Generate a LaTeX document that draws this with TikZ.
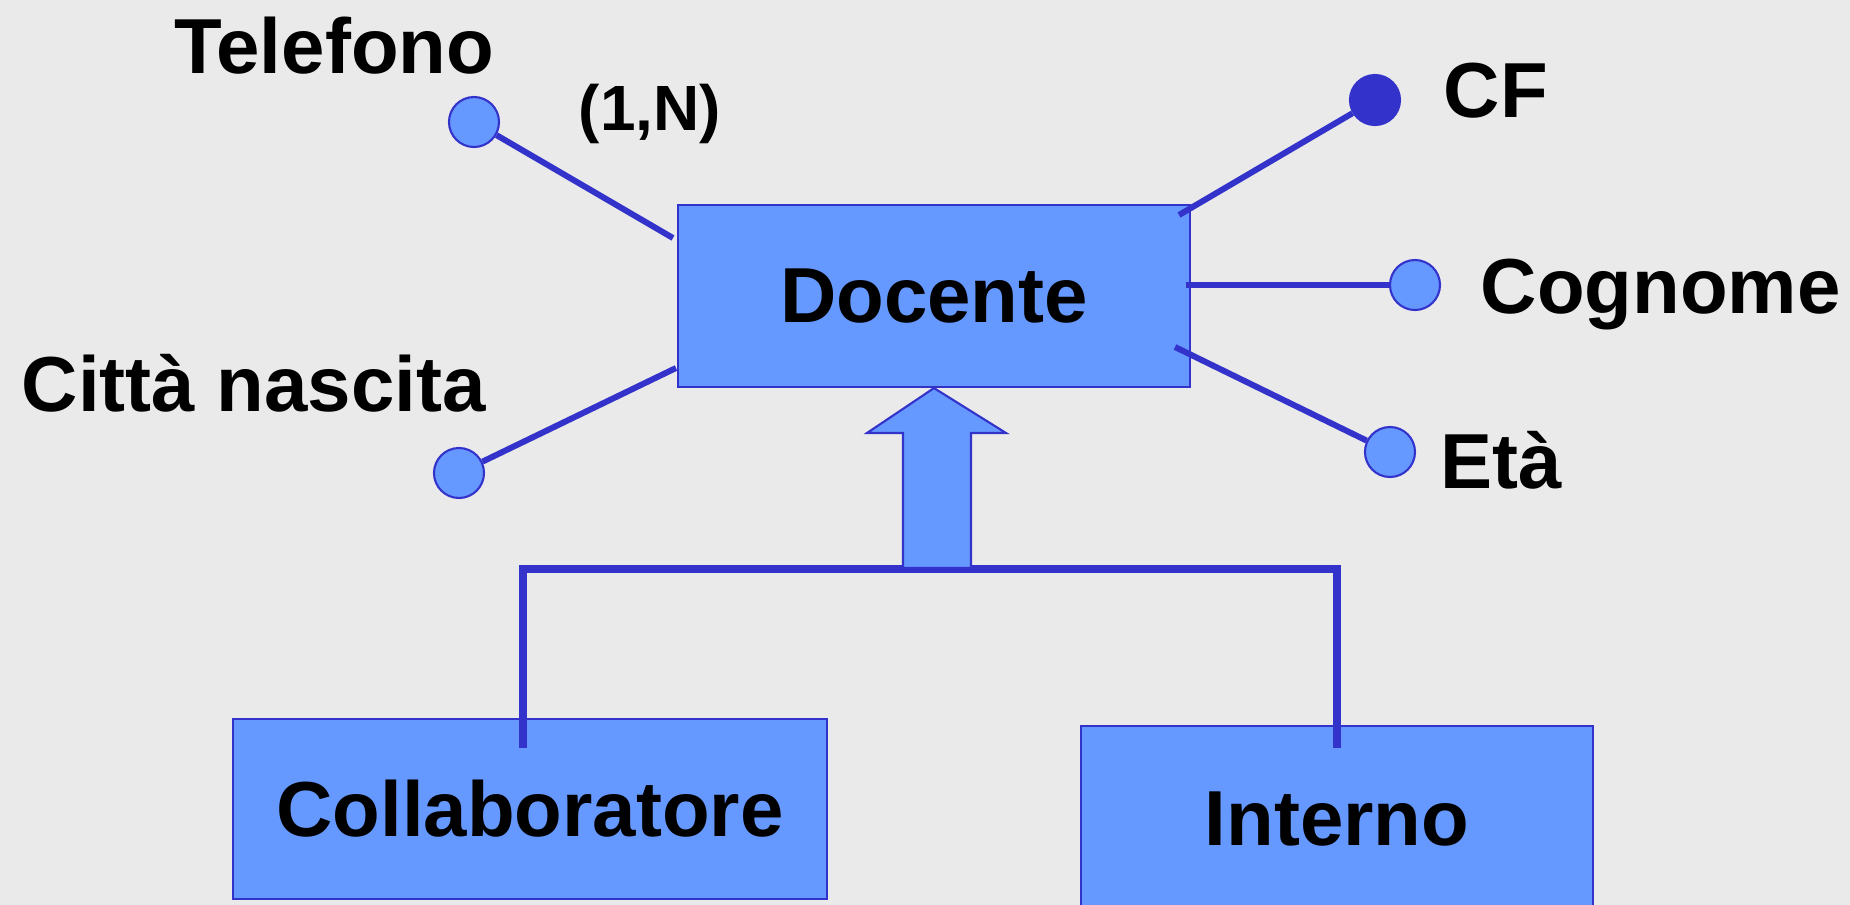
\documentclass[tikz,border=0pt]{standalone}
\usepackage{fontspec}
\setmainfont{Liberation Sans}
\definecolor{entfill}{HTML}{6699FF}
\definecolor{entline}{HTML}{3333CC}
\definecolor{slidebg}{HTML}{EAEAEA}

\begin{document}
\begin{tikzpicture}[
    x=0.1mm,
    y=-0.1mm,
    font=\fontsize{22.2}{26}\selectfont\bfseries,
    entity/.style={draw=entline, fill=entfill, line width=0.6pt, inner sep=0pt},
    attr/.style={circle, draw=entline, fill=entfill, line width=0.6pt,
                 minimum size=5mm, inner sep=0pt},
    keyattr/.style={attr, fill=entline},
    txt/.style={inner sep=0pt, anchor=base west},
    link/.style={draw=entline, line width=1.7pt},
    isaline/.style={draw=entline, line width=2pt, line join=miter},
]

    \useasboundingbox (0,0) rectangle (1850,905);
    \clip (0,0) rectangle (1850,905);
    \fill[slidebg] (0,0) rectangle (1850,905);

    % entities
    \node[entity, minimum width=51.2mm, minimum height=18.2mm] (doc)    at (934,296)  {Docente};
    \node[entity, minimum width=59.4mm, minimum height=18mm]   (collab) at (530,809)  {Collaboratore};
    \node[entity, minimum width=51.2mm, minimum height=18.6mm] (intern) at (1337,819) {Interno};

    % attributes
    \node[attr]    (tel)   at (474,122)  {};
    \node[attr]    (citta) at (459,473)  {};
    \node[keyattr] (cf)    at (1375,100) {};
    \node[attr]    (cogn)  at (1415,285) {};
    \node[attr]    (eta)   at (1390,452) {};

    \node[txt] (telT)   at (174,73)   {Telefono};
    \node[txt, font=\fontsize{18.2}{22}\selectfont\bfseries] (card) at (578,130) {(1,N)};
    \node[txt] (cittaT) at (21,411)   {Città nascita};
    \node[txt] (cfT)    at (1443,117) {CF};
    \node[txt] (cognT)  at (1480,313) {Cognome};
    \node[txt] (etaT)   at (1440,488) {Età};

    % line ends on the entity
    \coordinate (telEnd)   at (673,238);
    \coordinate (cittaEnd) at (676,368);
    \coordinate (cfEnd)    at (1179,215);
    \coordinate (cognEnd)  at (1186,285);
    \coordinate (etaEnd)   at (1175,347);

    \path[link]
        (tel)   edge (telEnd)
        (citta) edge (cittaEnd)
        (cf)    edge (cfEnd)
        (cogn)  edge (cognEnd)
        (eta)   edge (etaEnd)
    ;

    % generalization
    \coordinate (colIn) at (523,748);
    \coordinate (intIn) at (1337,748);
    \coordinate (bar)   at (937,569);
    \draw[isaline] (colIn) |- (bar) -| (intIn);

    \filldraw[fill=entfill, draw=entline, line width=0.6pt]
        (903,568) -- (903,433) -- (867,433) -- (doc.south)
        -- (1006,433) -- (971,433) -- (971,568) -- cycle;

\end{tikzpicture}
\end{document}
